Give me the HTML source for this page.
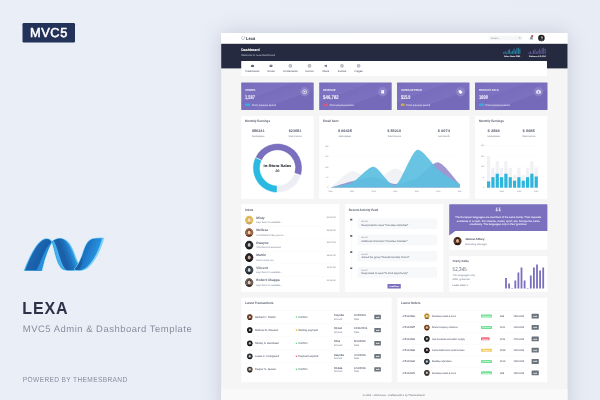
<!DOCTYPE html>
<html><head><meta charset="utf-8"><title>Lexa - MVC5 Admin &amp; Dashboard Template</title>
<style>
html,body{margin:0;padding:0;width:600px;height:400px;overflow:hidden;background:#e9eef7;font-family:"Liberation Sans",sans-serif;}
svg{display:block;font-family:"Liberation Sans",sans-serif;}
svg text{text-rendering:geometricPrecision;}
</style></head><body>
<svg width="600" height="400" viewBox="0 0 600 400">
<defs>
<filter id="sh" x="-30%" y="-30%" width="160%" height="160%"><feGaussianBlur stdDeviation="10"/></filter>
<filter id="soft" x="-5%" y="-5%" width="110%" height="110%"><feGaussianBlur stdDeviation="0.45"/></filter>
<filter id="soft2" x="-5%" y="-5%" width="110%" height="110%"><feGaussianBlur stdDeviation="0.3"/></filter>
<linearGradient id="bgg" x1="0" y1="0" x2="1" y2="0"><stop offset="0" stop-color="#e9eef7"/><stop offset="1" stop-color="#e8ecf5"/></linearGradient>
</defs>
<rect width="600" height="400" fill="url(#bgg)"/>
<g filter="url(#soft2)">
<rect x="22.50" y="23.00" width="52.50" height="19.50" fill="#243058" rx="1.2"/>
<text x="48.90" y="37.10" font-size="13.0" fill="#fff" text-anchor="middle" textLength="38.00" lengthAdjust="spacingAndGlyphs" letter-spacing="0.6" stroke="#fff" stroke-width="0.55">MVC5</text>
</g>
<g id="logo" filter="url(#soft2)">
<defs>
<linearGradient id="lgA" gradientUnits="userSpaceOnUse" x1="30" y1="250" x2="46" y2="258"><stop offset="0" stop-color="#2a86d2"/><stop offset="0.25" stop-color="#1b66b2"/><stop offset="0.7" stop-color="#195fa9"/><stop offset="1" stop-color="#1a62ad"/></linearGradient>
<linearGradient id="lgB" gradientUnits="userSpaceOnUse" x1="55" y1="259" x2="77" y2="251"><stop offset="0" stop-color="#1d66b0"/><stop offset="0.4" stop-color="#1a5ea7"/><stop offset="0.62" stop-color="#1f74c0"/><stop offset="0.8" stop-color="#2c96de"/><stop offset="1" stop-color="#4ab6ee"/></linearGradient>
<linearGradient id="lgC" gradientUnits="userSpaceOnUse" x1="80" y1="250" x2="99" y2="257"><stop offset="0" stop-color="#1b66b3"/><stop offset="0.4" stop-color="#1f7ac9"/><stop offset="1" stop-color="#2b9de8"/></linearGradient>
</defs>
<!-- left band -->
<path d="M23.6 270.9 C26.5 263 30 255.5 33.4 249.8 C36.4 244.8 39.6 241 43 239.2 C45.4 238 47.8 238.1 49.8 239.1 L52.6 241.5 C49.8 246 47.3 253 45 260 C44 263.6 43.2 267.4 42.2 270.9 Z" fill="#63c8f5"/>
<path d="M24.8 270.6 C27.6 263 31 255.6 34.3 250 C37.2 245.2 40.2 241.5 43.4 239.8 C45.8 238.7 47.8 238.7 49.6 239.7 L51.8 241.9 C49 246.4 46.5 253.2 44.2 260 C43.2 263.6 42.3 267.3 41.4 270.6 Z" fill="url(#lgA)"/>
<path d="M41.4 270.6 C42.3 267.3 43.2 263.6 44.2 260 C46.5 253.2 49 246.4 51.6 241.9 C47.6 245.6 44.6 251.5 42 258 C40.4 262.2 38.6 266.6 36.4 270.6 Z" fill="#2b8fdb"/>
<!-- middle band -->
<path d="M51.2 241.6 C53.6 239.6 57 237.7 61 238 C64.6 238.5 67.4 240.6 69.8 243.6 C72 246.6 73.6 250.6 75.2 254.8 C76.4 258 77.4 261.2 79 263.8 L82 268.6 C80 270.2 76 270.9 71 270.9 C66.6 270.9 63.4 270.4 61.4 268.8 C58.4 266 56.8 261.4 55.4 256.6 C54 251.4 53 246 51.4 241.2 Z" fill="#6ecdf6"/>
<path d="M51.8 241.8 C54.2 240 57.2 238.4 60.6 238.6 C63.8 239 66.4 240.9 68.6 243.8 C70.8 246.8 72.4 250.8 74 255 C75.2 258.2 76.4 261.4 78 264 L80.6 268.2 C78.8 269.6 75.6 270.3 71 270.3 C66.8 270.3 63.8 269.9 62 268.4 C59.2 265.6 57.6 261.2 56.2 256.4 C54.8 251.2 53.6 246 52 241.4 Z" fill="url(#lgB)"/>
<path d="M51.8 241.8 C53.6 246 54.8 251.2 56.2 256.4 C57.6 261.2 59.2 265.6 62 268.4 C63 269.3 64.4 269.8 66 270 C63 266.6 61.2 261.6 59.6 256.4 C58 251 56.2 245.4 53.8 240.6 L51.8 241.8 Z" fill="#45b0ee"/>
<!-- right band -->
<path d="M73.6 269.6 C77.4 265.6 79.6 260.6 81.4 256 C82.8 251.6 84.2 247 86.4 243.2 C88 240.6 90 238.9 92.4 238.2 C96 237.4 100.6 237.3 104.4 237.7 C103 243 101 248.6 98.2 254 C95.6 259 92.6 263.8 88.8 267.2 C86 269.8 82.4 271 79.4 270.9 C77 270.9 75 270.5 73.6 269.6 Z" fill="#7cd3f7"/>
<path d="M74.4 269.5 C78 265.6 80.2 260.8 82 256.2 C83.4 251.8 84.8 247.2 87 243.6 C88.4 241.2 90.2 239.6 92.4 238.9 C95.6 238.1 99.2 238 102.2 238.3 C100.8 243.4 99 248.6 96.4 253.8 C93.8 258.8 90.8 263.4 87.2 266.8 C84.8 269 82 270.2 79.6 270.3 C77.6 270.3 75.6 270.1 74.4 269.5 Z" fill="url(#lgC)"/>
<path d="M74.4 269.5 C78 265.6 80.2 260.8 82 256.2 C82.8 259.6 82.4 264 80.6 267.2 C79.6 269 77.8 270.2 76.4 270.2 Z" fill="#174c8e" opacity="0.55"/>
</g>
<g filter="url(#soft2)">
<text x="22.20" y="313.70" font-size="17.4" fill="#2e3248" font-weight="700" textLength="46.40" lengthAdjust="spacingAndGlyphs" letter-spacing="1">LEXA</text>
<text x="22.80" y="331.80" font-size="9.4" fill="#888d9e" textLength="169.40" lengthAdjust="spacingAndGlyphs" letter-spacing="0.5">MVC5 Admin &amp; Dashboard Template</text>
<text x="22.80" y="381.70" font-size="7.4" fill="#888d9e" textLength="104.80" lengthAdjust="spacingAndGlyphs" letter-spacing="0.4">POWERED BY THEMESBRAND</text>
</g>
<rect x="221.2" y="33" width="346.30" height="380" fill="#6e768c" opacity="0.29" filter="url(#sh)"/>
<g filter="url(#soft)">
<rect x="221.20" y="33.00" width="346.30" height="380.00" fill="#f5f5f5"/>
<rect x="221.20" y="388.70" width="346.30" height="12.00" fill="#f9f9f9"/>
<text x="393.60" y="395.50" font-size="2.4" fill="#8d949c" text-anchor="middle" textLength="61.50" lengthAdjust="spacingAndGlyphs" stroke="#8d949c" stroke-width="0.072">© 2018 - 2020 Lexa - Crafted with ♥ by Themesbrand</text>
<rect x="221.20" y="33.00" width="346.30" height="10.80" fill="#ffffff"/>
<path d="M243.2 36.4 C241.2 36.6 241 39.4 243 39.6 C244.6 39.6 244.9 37.6 244.5 36.3" fill="none" stroke="#6a7080" stroke-width="0.4"/>
<text x="246.10" y="39.50" font-size="4.5" fill="#2f3444" font-weight="700" textLength="9.00" lengthAdjust="spacingAndGlyphs">Lexa</text>
<rect x="488.30" y="35.70" width="34.40" height="4.60" fill="#f5f6f8" rx="2.3"/>
<text x="491.00" y="38.90" font-size="2.2" fill="#a4abb3" stroke="#a4abb3" stroke-width="0.066">Search...</text>
<circle cx="519.60" cy="37.80" r="0.70" fill="none" stroke="#8c939c" stroke-width="0.3"/>
<line x1="520.10" y1="38.30" x2="520.70" y2="38.90" stroke="#8c939c" stroke-width="0.3" />
<path d="M529.9 39.3 L529.9 38.9 C530.4 38.4 530.4 37.5 530.5 37.1 C530.8 36.2 532 36.2 532.3 37.1 C532.4 37.5 532.4 38.4 532.9 38.9 L532.9 39.3 Z" fill="#9096a2" stroke="#7a808c" stroke-width="0.25"/>
<circle cx="532.20" cy="36.10" r="1.05" fill="#b0445e" />
<circle cx="541.40" cy="38.00" r="3.30" fill="#222226" />
<ellipse cx="541.9" cy="37.4" rx="0.95" ry="1.25" fill="#a89c98"/>
<path d="M539.2 40.3 C540 38.9 543.4 38.9 544 40.4 C543 41.5 540.4 41.5 539.2 40.3Z" fill="#4a4b52"/>
<rect x="221.20" y="43.80" width="346.30" height="24.60" fill="#262c41"/>
<text x="241.20" y="51.30" font-size="3.5" fill="#ffffff" font-weight="700" textLength="18.60" lengthAdjust="spacingAndGlyphs" stroke="#ffffff" stroke-width="0.047">Dashboard</text>
<text x="241.20" y="56.00" font-size="2.4" fill="#9aa1b4" textLength="33.80" lengthAdjust="spacingAndGlyphs" stroke="#9aa1b4" stroke-width="0.072">Welcome to Lexa Dashboard</text>
<rect x="503.30" y="52.10" width="0.91" height="1.80" fill="#2bb9e0" opacity="0.66"/>
<rect x="504.77" y="51.30" width="0.91" height="2.60" fill="#2bb9e0" opacity="0.66"/>
<rect x="506.23" y="52.50" width="0.91" height="1.40" fill="#2bb9e0" opacity="0.66"/>
<rect x="507.70" y="50.30" width="0.91" height="3.60" fill="#2bb9e0" opacity="0.66"/>
<rect x="509.17" y="49.30" width="0.91" height="4.60" fill="#2bb9e0" opacity="0.66"/>
<rect x="510.63" y="51.70" width="0.91" height="2.20" fill="#2bb9e0" opacity="0.66"/>
<rect x="512.10" y="50.90" width="0.91" height="3.00" fill="#2bb9e0" opacity="0.66"/>
<rect x="513.57" y="48.70" width="0.91" height="5.20" fill="#2bb9e0" opacity="0.66"/>
<rect x="515.03" y="50.50" width="0.91" height="3.40" fill="#2bb9e0" opacity="0.66"/>
<rect x="516.50" y="48.10" width="0.91" height="5.80" fill="#2bb9e0" opacity="0.66"/>
<rect x="517.97" y="47.70" width="0.91" height="6.20" fill="#2bb9e0" opacity="0.66"/>
<rect x="519.43" y="48.90" width="0.91" height="5.00" fill="#2bb9e0" opacity="0.66"/>
<text x="512.10" y="57.10" font-size="2.0" fill="#e8eaf0" font-weight="700" text-anchor="middle" textLength="16.40" lengthAdjust="spacingAndGlyphs" stroke="#e8eaf0" stroke-width="0.027">Sales State 2584</text>
<rect x="528.60" y="52.10" width="0.91" height="1.80" fill="#7a6fbe" opacity="0.66"/>
<rect x="530.07" y="51.30" width="0.91" height="2.60" fill="#7a6fbe" opacity="0.66"/>
<rect x="531.53" y="52.50" width="0.91" height="1.40" fill="#7a6fbe" opacity="0.66"/>
<rect x="533.00" y="50.30" width="0.91" height="3.60" fill="#7a6fbe" opacity="0.66"/>
<rect x="534.47" y="49.30" width="0.91" height="4.60" fill="#7a6fbe" opacity="0.66"/>
<rect x="535.93" y="51.70" width="0.91" height="2.20" fill="#7a6fbe" opacity="0.66"/>
<rect x="537.40" y="50.90" width="0.91" height="3.00" fill="#7a6fbe" opacity="0.66"/>
<rect x="538.87" y="48.70" width="0.91" height="5.20" fill="#7a6fbe" opacity="0.66"/>
<rect x="540.33" y="50.50" width="0.91" height="3.40" fill="#7a6fbe" opacity="0.66"/>
<rect x="541.80" y="48.10" width="0.91" height="5.80" fill="#7a6fbe" opacity="0.66"/>
<rect x="543.27" y="47.70" width="0.91" height="6.20" fill="#7a6fbe" opacity="0.66"/>
<rect x="544.73" y="48.90" width="0.91" height="5.00" fill="#7a6fbe" opacity="0.66"/>
<text x="537.40" y="57.10" font-size="2.0" fill="#e8eaf0" font-weight="700" text-anchor="middle" textLength="16.60" lengthAdjust="spacingAndGlyphs" stroke="#e8eaf0" stroke-width="0.027">Balance $ 5,254</text>
<rect x="241.20" y="60.90" width="305.80" height="15.10" fill="#ffffff" rx="0.6"/>
<path d="M251.10 66.9 A1.5 1.5 0 1 1 253.90 66.9 Z" fill="#5d6372"/>
<text x="252.50" y="71.70" font-size="2.5" fill="#7a808d" text-anchor="middle" textLength="13.80" lengthAdjust="spacingAndGlyphs" stroke="#7a808d" stroke-width="0.075">Dashboard</text>
<rect x="269.60" y="64.80" width="2.80" height="2.10" fill="#5d6372" rx="0.3"/>
<path d="M269.80 65.1 L271.00 66.1 L272.20 65.1" fill="none" stroke="#fff" stroke-width="0.3"/>
<text x="271.00" y="71.70" font-size="2.5" fill="#7a808d" text-anchor="middle" textLength="7.20" lengthAdjust="spacingAndGlyphs" stroke="#7a808d" stroke-width="0.075">Email</text>
<rect x="289.10" y="64.60" width="2.40" height="2.50" fill="none" rx="0.3" stroke="#5d6372" stroke-width="0.45"/>
<line x1="289.70" y1="65.50" x2="290.90" y2="65.50" stroke="#5d6372" stroke-width="0.3" />
<line x1="289.70" y1="66.30" x2="290.90" y2="66.30" stroke="#5d6372" stroke-width="0.3" />
<text x="290.30" y="71.70" font-size="2.5" fill="#7a808d" text-anchor="middle" textLength="14.60" lengthAdjust="spacingAndGlyphs" stroke="#7a808d" stroke-width="0.075">UI Elements</text>
<rect x="308.30" y="64.60" width="2.40" height="2.50" fill="none" rx="0.3" stroke="#5d6372" stroke-width="0.45"/>
<line x1="308.90" y1="65.50" x2="310.10" y2="65.50" stroke="#5d6372" stroke-width="0.3" />
<line x1="308.90" y1="66.30" x2="310.10" y2="66.30" stroke="#5d6372" stroke-width="0.3" />
<text x="309.50" y="71.70" font-size="2.5" fill="#7a808d" text-anchor="middle" textLength="8.20" lengthAdjust="spacingAndGlyphs" stroke="#7a808d" stroke-width="0.075">Forms</text>
<path d="M324.50 65.2 L325.50 65.2 L326.80 64.5 L326.80 67.3 L325.50 66.6 L324.50 66.6 Z" fill="#5d6372"/>
<text x="325.80" y="71.70" font-size="2.5" fill="#7a808d" text-anchor="middle" textLength="6.80" lengthAdjust="spacingAndGlyphs" stroke="#7a808d" stroke-width="0.075">More</text>
<rect x="340.80" y="64.60" width="2.40" height="2.50" fill="none" rx="0.3" stroke="#5d6372" stroke-width="0.45"/>
<line x1="341.40" y1="65.50" x2="342.60" y2="65.50" stroke="#5d6372" stroke-width="0.3" />
<line x1="341.40" y1="66.30" x2="342.60" y2="66.30" stroke="#5d6372" stroke-width="0.3" />
<text x="342.00" y="71.70" font-size="2.5" fill="#7a808d" text-anchor="middle" textLength="8.40" lengthAdjust="spacingAndGlyphs" stroke="#7a808d" stroke-width="0.075">Extras</text>
<rect x="357.40" y="64.60" width="2.40" height="2.50" fill="none" rx="0.3" stroke="#5d6372" stroke-width="0.45"/>
<line x1="358.00" y1="65.50" x2="359.20" y2="65.50" stroke="#5d6372" stroke-width="0.3" />
<line x1="358.00" y1="66.30" x2="359.20" y2="66.30" stroke="#5d6372" stroke-width="0.3" />
<text x="358.60" y="71.70" font-size="2.5" fill="#7a808d" text-anchor="middle" textLength="8.20" lengthAdjust="spacingAndGlyphs" stroke="#7a808d" stroke-width="0.075">Pages</text>
<defs><linearGradient id="cg" x1="0" y1="0" x2="1" y2="1"><stop offset="0" stop-color="#786dbd"/><stop offset="0.35" stop-color="#7d72c1"/><stop offset="0.36" stop-color="#786dbd"/><stop offset="0.62" stop-color="#7b70bf"/><stop offset="0.63" stop-color="#756aba"/><stop offset="1" stop-color="#756aba"/></linearGradient></defs>
<rect x="241.20" y="82.50" width="72.50" height="27.60" fill="url(#cg)" rx="0.7"/>
<text x="245.10" y="90.70" font-size="2.8" fill="#e4e1f4" font-weight="700" textLength="10.40" lengthAdjust="spacingAndGlyphs" stroke="#e4e1f4" stroke-width="0.038">ORDERS</text>
<text x="245.10" y="98.70" font-size="5.5" fill="#ffffff" font-weight="700" textLength="9.80" lengthAdjust="spacingAndGlyphs">1,587</text>
<rect x="245.10" y="103.60" width="5.30" height="2.30" fill="#2bb9e0" rx="0.5" opacity="0.78"/>
<text x="252.00" y="105.60" font-size="2.4" fill="#dcd8f0" textLength="24.00" lengthAdjust="spacingAndGlyphs" stroke="#dcd8f0" stroke-width="0.072">From previous period</text>
<circle cx="304.70" cy="91.80" r="4.70" fill="#8b81c8" />
<circle cx="304.70" cy="91.80" r="2.00" fill="none" stroke="#fff" stroke-width="0.6"/>
<circle cx="304.70" cy="91.80" r="0.70" fill="#fff" />
<rect x="319.20" y="82.50" width="72.50" height="27.60" fill="url(#cg)" rx="0.7"/>
<text x="323.10" y="90.70" font-size="2.8" fill="#e4e1f4" font-weight="700" textLength="12.40" lengthAdjust="spacingAndGlyphs" stroke="#e4e1f4" stroke-width="0.038">REVENUE</text>
<text x="323.10" y="98.70" font-size="5.5" fill="#ffffff" font-weight="700" textLength="15.60" lengthAdjust="spacingAndGlyphs">$46,782</text>
<rect x="323.10" y="103.60" width="5.00" height="2.30" fill="#ec536c" rx="0.5" opacity="0.78"/>
<text x="329.70" y="105.60" font-size="2.4" fill="#dcd8f0" textLength="24.00" lengthAdjust="spacingAndGlyphs" stroke="#dcd8f0" stroke-width="0.072">From previous period</text>
<circle cx="382.70" cy="91.80" r="4.70" fill="#8b81c8" />
<rect x="381.30" y="90.00" width="2.80" height="3.60" fill="#fff" rx="0.4"/>
<rect x="381.90" y="90.80" width="1.60" height="0.50" fill="#8b81c8"/>
<rect x="397.00" y="82.50" width="72.50" height="27.60" fill="url(#cg)" rx="0.7"/>
<text x="400.90" y="90.70" font-size="2.8" fill="#e4e1f4" font-weight="700" textLength="21.00" lengthAdjust="spacingAndGlyphs" stroke="#e4e1f4" stroke-width="0.038">AVERAGE PRICE</text>
<text x="400.90" y="98.70" font-size="5.5" fill="#ffffff" font-weight="700" textLength="9.60" lengthAdjust="spacingAndGlyphs">$15.9</text>
<rect x="400.90" y="103.60" width="3.60" height="2.30" fill="#f5b225" rx="0.5" opacity="0.78"/>
<text x="406.10" y="105.60" font-size="2.4" fill="#dcd8f0" textLength="24.00" lengthAdjust="spacingAndGlyphs" stroke="#dcd8f0" stroke-width="0.072">From previous period</text>
<circle cx="460.50" cy="91.80" r="4.70" fill="#8b81c8" />
<path d="M458.60 90.2 L460.80 90.2 L462.60 92.2 L460.60 94 L458.60 92.2 Z" fill="#fff"/>
<rect x="475.00" y="82.50" width="72.50" height="27.60" fill="url(#cg)" rx="0.7"/>
<text x="478.90" y="90.70" font-size="2.8" fill="#e4e1f4" font-weight="700" textLength="19.60" lengthAdjust="spacingAndGlyphs" stroke="#e4e1f4" stroke-width="0.038">PRODUCT SOLD</text>
<text x="478.90" y="98.70" font-size="5.5" fill="#ffffff" font-weight="700" textLength="9.00" lengthAdjust="spacingAndGlyphs">1890</text>
<rect x="478.90" y="103.60" width="5.10" height="2.30" fill="#2bb9e0" rx="0.5" opacity="0.78"/>
<text x="485.60" y="105.60" font-size="2.4" fill="#dcd8f0" textLength="24.00" lengthAdjust="spacingAndGlyphs" stroke="#dcd8f0" stroke-width="0.072">From previous period</text>
<circle cx="538.50" cy="91.80" r="4.70" fill="#8b81c8" />
<rect x="536.30" y="90.40" width="4.40" height="3.20" fill="#fff" rx="0.5"/>
<circle cx="538.50" cy="92.00" r="0.90" fill="#8b81c8" />
<rect x="537.60" y="89.80" width="1.80" height="0.80" fill="#fff"/>
<rect x="241.20" y="116.00" width="72.50" height="82.80" fill="#ffffff" rx="0.7"/>
<rect x="319.20" y="116.00" width="150.30" height="82.80" fill="#ffffff" rx="0.7"/>
<rect x="475.00" y="116.00" width="72.20" height="82.80" fill="#ffffff" rx="0.7"/>
<text x="245.10" y="122.40" font-size="3.2" fill="#4a5060" font-weight="700" textLength="25.00" lengthAdjust="spacingAndGlyphs" opacity="0.85" stroke="#4a5060" stroke-width="0.043">Monthly Earnings</text>
<text x="323.00" y="122.40" font-size="3.2" fill="#4a5060" font-weight="700" textLength="15.40" lengthAdjust="spacingAndGlyphs" opacity="0.85" stroke="#4a5060" stroke-width="0.043">Email Sent</text>
<text x="478.90" y="122.40" font-size="3.2" fill="#4a5060" font-weight="700" textLength="25.00" lengthAdjust="spacingAndGlyphs" opacity="0.85" stroke="#4a5060" stroke-width="0.043">Monthly Earnings</text>
<text x="258.20" y="131.90" font-size="3.6" fill="#6b7180" font-weight="700" text-anchor="middle" textLength="12.60" lengthAdjust="spacingAndGlyphs" stroke="#6b7180" stroke-width="0.049">$56241</text>
<text x="258.20" y="137.10" font-size="2.3" fill="#9aa3ad" text-anchor="middle" textLength="12.40" lengthAdjust="spacingAndGlyphs" stroke="#9aa3ad" stroke-width="0.069">Marketplace</text>
<text x="295.00" y="131.90" font-size="3.6" fill="#6b7180" font-weight="700" text-anchor="middle" textLength="12.60" lengthAdjust="spacingAndGlyphs" stroke="#6b7180" stroke-width="0.049">$23651</text>
<text x="295.00" y="137.10" font-size="2.3" fill="#9aa3ad" text-anchor="middle" textLength="13.60" lengthAdjust="spacingAndGlyphs" stroke="#9aa3ad" stroke-width="0.069">Total Income</text>
<text x="344.90" y="131.90" font-size="3.6" fill="#6b7180" font-weight="700" text-anchor="middle" textLength="14.00" lengthAdjust="spacingAndGlyphs" stroke="#6b7180" stroke-width="0.049">$ 89425</text>
<text x="344.90" y="137.10" font-size="2.3" fill="#9aa3ad" text-anchor="middle" textLength="12.40" lengthAdjust="spacingAndGlyphs" stroke="#9aa3ad" stroke-width="0.069">Marketplace</text>
<text x="394.20" y="131.90" font-size="3.6" fill="#6b7180" font-weight="700" text-anchor="middle" textLength="14.00" lengthAdjust="spacingAndGlyphs" stroke="#6b7180" stroke-width="0.049">$ 56210</text>
<text x="394.20" y="137.10" font-size="2.3" fill="#9aa3ad" text-anchor="middle" textLength="13.60" lengthAdjust="spacingAndGlyphs" stroke="#9aa3ad" stroke-width="0.069">Total Income</text>
<text x="443.80" y="131.90" font-size="3.6" fill="#6b7180" font-weight="700" text-anchor="middle" textLength="12.20" lengthAdjust="spacingAndGlyphs" stroke="#6b7180" stroke-width="0.049">$ 8974</text>
<text x="443.80" y="137.10" font-size="2.3" fill="#9aa3ad" text-anchor="middle" textLength="11.60" lengthAdjust="spacingAndGlyphs" stroke="#9aa3ad" stroke-width="0.069">Last Month</text>
<text x="493.70" y="131.90" font-size="3.6" fill="#6b7180" font-weight="700" text-anchor="middle" textLength="12.20" lengthAdjust="spacingAndGlyphs" stroke="#6b7180" stroke-width="0.049">$ 2548</text>
<text x="493.70" y="137.10" font-size="2.3" fill="#9aa3ad" text-anchor="middle" textLength="12.40" lengthAdjust="spacingAndGlyphs" stroke="#9aa3ad" stroke-width="0.069">Marketplace</text>
<text x="528.70" y="131.90" font-size="3.6" fill="#6b7180" font-weight="700" text-anchor="middle" textLength="12.20" lengthAdjust="spacingAndGlyphs" stroke="#6b7180" stroke-width="0.049">$ 6985</text>
<text x="528.70" y="137.10" font-size="2.3" fill="#9aa3ad" text-anchor="middle" textLength="13.60" lengthAdjust="spacingAndGlyphs" stroke="#9aa3ad" stroke-width="0.069">Total Income</text>
<path d="M255.30 157.41 A24.6 24.6 0 0 1 300.96 175.40 L294.29 173.29 A17.6 17.6 0 0 0 261.61 160.42 Z" fill="#7a6fbe" stroke="#fff" stroke-width="0.5"/>
<path d="M300.96 175.40 A24.6 24.6 0 0 1 277.07 192.60 L277.19 185.60 A17.6 17.6 0 0 0 294.29 173.29 Z" fill="#eceef3" stroke="#fff" stroke-width="0.5"/>
<path d="M277.07 192.60 A24.6 24.6 0 0 1 255.30 157.41 L261.61 160.42 A17.6 17.6 0 0 0 277.19 185.60 Z" fill="#2bb9e0" stroke="#fff" stroke-width="0.5"/>
<text x="277.50" y="166.70" font-size="3.7" fill="#23272f" font-weight="700" text-anchor="middle" textLength="27.80" lengthAdjust="spacingAndGlyphs" stroke="#23272f" stroke-width="0.050">In-Store Sales</text>
<text x="277.50" y="171.90" font-size="3.4" fill="#23272f" text-anchor="middle" stroke="#23272f" stroke-width="0.102">30</text>
<line x1="330.50" y1="146.00" x2="460.00" y2="146.00" stroke="#f1f2f5" stroke-width="0.25" />
<text x="328.30" y="146.70" font-size="1.9" fill="#a9afb7" text-anchor="end" stroke="#a9afb7" stroke-width="0.057">200</text>
<line x1="330.50" y1="156.40" x2="460.00" y2="156.40" stroke="#f1f2f5" stroke-width="0.25" />
<text x="328.30" y="157.10" font-size="1.9" fill="#a9afb7" text-anchor="end" stroke="#a9afb7" stroke-width="0.057">150</text>
<line x1="330.50" y1="166.80" x2="460.00" y2="166.80" stroke="#f1f2f5" stroke-width="0.25" />
<text x="328.30" y="167.50" font-size="1.9" fill="#a9afb7" text-anchor="end" stroke="#a9afb7" stroke-width="0.057">100</text>
<line x1="330.50" y1="177.20" x2="460.00" y2="177.20" stroke="#f1f2f5" stroke-width="0.25" />
<text x="328.30" y="177.90" font-size="1.9" fill="#a9afb7" text-anchor="end" stroke="#a9afb7" stroke-width="0.057">50</text>
<line x1="330.50" y1="187.60" x2="460.00" y2="187.60" stroke="#f1f2f5" stroke-width="0.25" />
<text x="328.30" y="188.30" font-size="1.9" fill="#a9afb7" text-anchor="end" stroke="#a9afb7" stroke-width="0.057">0</text>
<text x="330.50" y="192.10" font-size="1.9" fill="#a9afb7" text-anchor="middle" stroke="#a9afb7" stroke-width="0.057">2011</text>
<text x="352.08" y="192.10" font-size="1.9" fill="#a9afb7" text-anchor="middle" stroke="#a9afb7" stroke-width="0.057">2012</text>
<text x="373.67" y="192.10" font-size="1.9" fill="#a9afb7" text-anchor="middle" stroke="#a9afb7" stroke-width="0.057">2013</text>
<text x="395.25" y="192.10" font-size="1.9" fill="#a9afb7" text-anchor="middle" stroke="#a9afb7" stroke-width="0.057">2014</text>
<text x="416.83" y="192.10" font-size="1.9" fill="#a9afb7" text-anchor="middle" stroke="#a9afb7" stroke-width="0.057">2015</text>
<text x="438.42" y="192.10" font-size="1.9" fill="#a9afb7" text-anchor="middle" stroke="#a9afb7" stroke-width="0.057">2016</text>
<text x="460.00" y="192.10" font-size="1.9" fill="#a9afb7" text-anchor="middle" stroke="#a9afb7" stroke-width="0.057">2017</text>
<path d="M330.50 187.60 C335.90 183.45 346.69 171.76 352.08 171.00 C357.48 170.24 368.27 181.81 373.67 181.50 C379.06 181.19 389.85 168.56 395.25 168.50 C400.65 168.44 411.44 179.06 416.83 181.00 C422.23 182.94 433.02 183.56 438.42 184.00 C443.81 184.44 454.60 184.38 460.00 184.50 L460.00 187.6 L330.50 187.6 Z" fill="#f1f2f5" opacity="1"/>
<path d="M330.50 187.60 C335.90 186.00 346.69 182.52 352.08 181.20 C357.48 179.88 368.27 176.65 373.67 177.00 C379.06 177.35 389.85 183.88 395.25 184.00 C400.65 184.12 411.44 180.70 416.83 178.00 C422.23 175.30 433.02 161.61 438.42 162.40 C443.81 163.19 454.60 178.83 460.00 184.30 L460.00 187.6 L330.50 187.6 Z" fill="#a197d0" opacity="1"/>
<path d="M330.50 187.60 C335.90 186.35 346.69 185.20 352.08 182.60 C357.48 180.00 368.27 166.46 373.67 166.80 C379.06 167.14 389.85 187.41 395.25 185.30 C400.65 183.19 411.44 151.81 416.83 149.90 C422.23 147.99 433.02 165.70 438.42 170.00 C443.81 174.30 454.60 180.72 460.00 184.30 L460.00 187.6 L330.50 187.6 Z" fill="#5bbfe0" opacity="0.93"/>
<line x1="485.50" y1="145.70" x2="540.00" y2="145.70" stroke="#f1f2f5" stroke-width="0.25" />
<text x="484.20" y="146.40" font-size="1.9" fill="#a9afb7" text-anchor="end" stroke="#a9afb7" stroke-width="0.057">300</text>
<line x1="485.50" y1="156.20" x2="540.00" y2="156.20" stroke="#f1f2f5" stroke-width="0.25" />
<text x="484.20" y="156.90" font-size="1.9" fill="#a9afb7" text-anchor="end" stroke="#a9afb7" stroke-width="0.057">225</text>
<line x1="485.50" y1="166.70" x2="540.00" y2="166.70" stroke="#f1f2f5" stroke-width="0.25" />
<text x="484.20" y="167.40" font-size="1.9" fill="#a9afb7" text-anchor="end" stroke="#a9afb7" stroke-width="0.057">150</text>
<line x1="485.50" y1="177.20" x2="540.00" y2="177.20" stroke="#f1f2f5" stroke-width="0.25" />
<text x="484.20" y="177.90" font-size="1.9" fill="#a9afb7" text-anchor="end" stroke="#a9afb7" stroke-width="0.057">75</text>
<line x1="485.50" y1="187.70" x2="540.00" y2="187.70" stroke="#f1f2f5" stroke-width="0.25" />
<text x="484.20" y="188.40" font-size="1.9" fill="#a9afb7" text-anchor="end" stroke="#a9afb7" stroke-width="0.057">0</text>
<rect x="487.00" y="156.20" width="3.20" height="31.50" fill="#f0f1f4"/>
<rect x="487.00" y="181.40" width="3.20" height="6.30" fill="#2fb5dc"/>
<rect x="491.33" y="168.10" width="3.20" height="19.60" fill="#f0f1f4"/>
<rect x="491.33" y="177.20" width="3.20" height="10.50" fill="#2fb5dc"/>
<rect x="495.66" y="161.10" width="3.20" height="26.60" fill="#f0f1f4"/>
<rect x="495.66" y="173.70" width="3.20" height="14.00" fill="#2fb5dc"/>
<rect x="499.99" y="168.10" width="3.20" height="19.60" fill="#f0f1f4"/>
<rect x="499.99" y="177.20" width="3.20" height="10.50" fill="#2fb5dc"/>
<rect x="504.32" y="161.10" width="3.20" height="26.60" fill="#f0f1f4"/>
<rect x="504.32" y="173.70" width="3.20" height="14.00" fill="#2fb5dc"/>
<rect x="508.65" y="168.10" width="3.20" height="19.60" fill="#f0f1f4"/>
<rect x="508.65" y="177.20" width="3.20" height="10.50" fill="#2fb5dc"/>
<rect x="512.98" y="175.10" width="3.20" height="12.60" fill="#f0f1f4"/>
<rect x="512.98" y="180.70" width="3.20" height="7.00" fill="#2fb5dc"/>
<rect x="517.31" y="168.10" width="3.20" height="19.60" fill="#f0f1f4"/>
<rect x="517.31" y="177.20" width="3.20" height="10.50" fill="#2fb5dc"/>
<rect x="521.64" y="175.10" width="3.20" height="12.60" fill="#f0f1f4"/>
<rect x="521.64" y="180.70" width="3.20" height="7.00" fill="#2fb5dc"/>
<rect x="525.97" y="168.10" width="3.20" height="19.60" fill="#f0f1f4"/>
<rect x="525.97" y="177.20" width="3.20" height="10.50" fill="#2fb5dc"/>
<rect x="530.30" y="161.10" width="3.20" height="26.60" fill="#f0f1f4"/>
<rect x="530.30" y="173.70" width="3.20" height="14.00" fill="#2fb5dc"/>
<rect x="534.63" y="167.40" width="3.20" height="20.30" fill="#f0f1f4"/>
<rect x="534.63" y="176.50" width="3.20" height="11.20" fill="#2fb5dc"/>
<text x="501.70" y="192.40" font-size="1.9" fill="#a9afb7" text-anchor="middle" stroke="#a9afb7" stroke-width="0.057">2008</text>
<text x="519.20" y="192.40" font-size="1.9" fill="#a9afb7" text-anchor="middle" stroke="#a9afb7" stroke-width="0.057">2012</text>
<text x="536.20" y="192.40" font-size="1.9" fill="#a9afb7" text-anchor="middle" stroke="#a9afb7" stroke-width="0.057">2016</text>
<rect x="241.20" y="204.20" width="98.20" height="87.60" fill="#ffffff" rx="0.7"/>
<rect x="345.00" y="204.20" width="98.30" height="87.60" fill="#ffffff" rx="0.7"/>
<text x="245.10" y="210.60" font-size="3.2" fill="#4a5060" font-weight="700" textLength="8.20" lengthAdjust="spacingAndGlyphs" opacity="0.85" stroke="#4a5060" stroke-width="0.043">Inbox</text>
<text x="348.80" y="210.60" font-size="3.2" fill="#4a5060" font-weight="700" textLength="29.40" lengthAdjust="spacingAndGlyphs" opacity="0.85" stroke="#4a5060" stroke-width="0.043">Recent Activity Feed</text>
<g><clipPath id="cp2492_2200"><circle cx="249.2" cy="220.0" r="4.4"/></clipPath>
<g clip-path="url(#cp2492_2200)">
<circle cx="249.20" cy="220.00" r="4.40" fill="#e3c355" />
<ellipse cx="249.2" cy="224.49" rx="3.61" ry="2.42" fill="#c9a36a"/>
<ellipse cx="249.2" cy="219.21" rx="2.02" ry="2.29" fill="#c9a36a"/>
<ellipse cx="249.2" cy="219.91" rx="1.50" ry="1.85" fill="#f3e0c4"/>
</g></g>
<text x="256.30" y="218.60" font-size="3.25" fill="#596070" font-weight="700" opacity="0.9" stroke="#596070" stroke-width="0.044">Misty</text>
<text x="256.30" y="223.00" font-size="2.3" fill="#9aa3ad" stroke="#9aa3ad" stroke-width="0.069">Hey! there I'm available...</text>
<text x="335.60" y="218.20" font-size="2.1" fill="#9aa3ad" text-anchor="end" stroke="#9aa3ad" stroke-width="0.063">13:40 PM</text>
<line x1="245.10" y1="226.25" x2="335.60" y2="226.25" stroke="#f0f1f3" stroke-width="0.3" />
<g><clipPath id="cp2492_2325"><circle cx="249.2" cy="232.5" r="4.4"/></clipPath>
<g clip-path="url(#cp2492_2325)">
<circle cx="249.20" cy="232.50" r="4.40" fill="#9a6b4a" />
<ellipse cx="249.2" cy="236.99" rx="3.61" ry="2.42" fill="#6a3a22"/>
<ellipse cx="249.2" cy="231.71" rx="2.02" ry="2.29" fill="#6a3a22"/>
<ellipse cx="249.2" cy="232.41" rx="1.50" ry="1.85" fill="#efcdb0"/>
</g></g>
<text x="256.30" y="231.10" font-size="3.25" fill="#596070" font-weight="700" opacity="0.9" stroke="#596070" stroke-width="0.044">Melissa</text>
<text x="256.30" y="235.50" font-size="2.3" fill="#9aa3ad" stroke="#9aa3ad" stroke-width="0.069">I've finished it! See you so...</text>
<text x="335.60" y="230.70" font-size="2.1" fill="#9aa3ad" text-anchor="end" stroke="#9aa3ad" stroke-width="0.063">13:34 PM</text>
<line x1="245.10" y1="238.75" x2="335.60" y2="238.75" stroke="#f0f1f3" stroke-width="0.3" />
<g><clipPath id="cp2492_2450"><circle cx="249.2" cy="245.0" r="4.4"/></clipPath>
<g clip-path="url(#cp2492_2450)">
<circle cx="249.20" cy="245.00" r="4.40" fill="#2e2e31" />
<ellipse cx="249.2" cy="249.49" rx="3.61" ry="2.42" fill="#19191b"/>
<ellipse cx="249.2" cy="244.21" rx="2.02" ry="2.29" fill="#19191b"/>
<ellipse cx="249.2" cy="244.91" rx="1.50" ry="1.85" fill="#c4c4c6"/>
</g></g>
<text x="256.30" y="243.60" font-size="3.25" fill="#596070" font-weight="700" opacity="0.9" stroke="#596070" stroke-width="0.044">Dwayne</text>
<text x="256.30" y="248.00" font-size="2.3" fill="#9aa3ad" stroke="#9aa3ad" stroke-width="0.069">This theme is awesome!</text>
<text x="335.60" y="243.20" font-size="2.1" fill="#9aa3ad" text-anchor="end" stroke="#9aa3ad" stroke-width="0.063">13:17 PM</text>
<line x1="245.10" y1="251.25" x2="335.60" y2="251.25" stroke="#f0f1f3" stroke-width="0.3" />
<g><clipPath id="cp2492_2575"><circle cx="249.2" cy="257.5" r="4.4"/></clipPath>
<g clip-path="url(#cp2492_2575)">
<circle cx="249.20" cy="257.50" r="4.40" fill="#2d2729" />
<ellipse cx="249.2" cy="261.99" rx="3.61" ry="2.42" fill="#171314"/>
<ellipse cx="249.2" cy="256.71" rx="2.02" ry="2.29" fill="#171314"/>
<ellipse cx="249.2" cy="257.41" rx="1.50" ry="1.85" fill="#c9aea2"/>
</g></g>
<text x="256.30" y="256.10" font-size="3.25" fill="#596070" font-weight="700" opacity="0.9" stroke="#596070" stroke-width="0.044">Martin</text>
<text x="256.30" y="260.50" font-size="2.3" fill="#9aa3ad" stroke="#9aa3ad" stroke-width="0.069">Nice to meet you</text>
<text x="335.60" y="255.70" font-size="2.1" fill="#9aa3ad" text-anchor="end" stroke="#9aa3ad" stroke-width="0.063">12:20 PM</text>
<line x1="245.10" y1="263.75" x2="335.60" y2="263.75" stroke="#f0f1f3" stroke-width="0.3" />
<g><clipPath id="cp2492_2700"><circle cx="249.2" cy="270.0" r="4.4"/></clipPath>
<g clip-path="url(#cp2492_2700)">
<circle cx="249.20" cy="270.00" r="4.40" fill="#3a4650" />
<ellipse cx="249.2" cy="274.49" rx="3.61" ry="2.42" fill="#20282f"/>
<ellipse cx="249.2" cy="269.21" rx="2.02" ry="2.29" fill="#20282f"/>
<ellipse cx="249.2" cy="269.91" rx="1.50" ry="1.85" fill="#d2d8dc"/>
</g></g>
<text x="256.30" y="268.60" font-size="3.25" fill="#596070" font-weight="700" opacity="0.9" stroke="#596070" stroke-width="0.044">Vincent</text>
<text x="256.30" y="273.00" font-size="2.3" fill="#9aa3ad" stroke="#9aa3ad" stroke-width="0.069">Hey! there I'm available...</text>
<text x="335.60" y="268.20" font-size="2.1" fill="#9aa3ad" text-anchor="end" stroke="#9aa3ad" stroke-width="0.063">11:47 AM</text>
<line x1="245.10" y1="276.25" x2="335.60" y2="276.25" stroke="#f0f1f3" stroke-width="0.3" />
<g><clipPath id="cp2492_2825"><circle cx="249.2" cy="282.5" r="4.4"/></clipPath>
<g clip-path="url(#cp2492_2825)">
<circle cx="249.20" cy="282.50" r="4.40" fill="#6f625b" />
<ellipse cx="249.2" cy="286.99" rx="3.61" ry="2.42" fill="#3a2e29"/>
<ellipse cx="249.2" cy="281.71" rx="2.02" ry="2.29" fill="#3a2e29"/>
<ellipse cx="249.2" cy="282.41" rx="1.50" ry="1.85" fill="#e0cdbf"/>
</g></g>
<text x="256.30" y="281.10" font-size="3.25" fill="#596070" font-weight="700" opacity="0.9" stroke="#596070" stroke-width="0.044">Robert Chappa</text>
<text x="256.30" y="285.50" font-size="2.3" fill="#9aa3ad" stroke="#9aa3ad" stroke-width="0.069">Hey! there I'm available...</text>
<text x="335.60" y="280.70" font-size="2.1" fill="#9aa3ad" text-anchor="end" stroke="#9aa3ad" stroke-width="0.063">10:12 AM</text>
<line x1="351.30" y1="219.00" x2="351.30" y2="280.00" stroke="#eceef1" stroke-width="0.4" />
<rect x="357.50" y="218.50" width="79.50" height="10.60" fill="#f7f8fa" rx="0.5"/>
<rect x="350.20" y="218.80" width="2.10" height="1.70" fill="#5a6070" rx="0.3"/>
<text x="361.30" y="222.10" font-size="2.1" fill="#9aa3ad" stroke="#9aa3ad" stroke-width="0.063">Jan 22</text>
<text x="361.30" y="225.70" font-size="2.4" fill="#838995" textLength="47.00" lengthAdjust="spacingAndGlyphs" stroke="#838995" stroke-width="0.072">Responded to need "Volunteer Activities"</text>
<rect x="357.50" y="234.70" width="79.50" height="10.60" fill="#f7f8fa" rx="0.5"/>
<rect x="350.20" y="235.00" width="2.10" height="1.70" fill="#5a6070" rx="0.3"/>
<text x="361.30" y="238.30" font-size="2.1" fill="#9aa3ad" stroke="#9aa3ad" stroke-width="0.063">Jan 20</text>
<text x="361.30" y="241.90" font-size="2.4" fill="#838995" textLength="46.00" lengthAdjust="spacingAndGlyphs" stroke="#838995" stroke-width="0.072">Additional information "Volunteer Activities"</text>
<rect x="357.50" y="250.90" width="79.50" height="10.60" fill="#f7f8fa" rx="0.5"/>
<rect x="350.20" y="251.20" width="2.10" height="1.70" fill="#5a6070" rx="0.3"/>
<text x="361.30" y="254.50" font-size="2.1" fill="#9aa3ad" stroke="#9aa3ad" stroke-width="0.063">Jan 19</text>
<text x="361.30" y="258.10" font-size="2.4" fill="#838995" textLength="48.00" lengthAdjust="spacingAndGlyphs" stroke="#838995" stroke-width="0.072">Joined the group "Boardsmanship Forum"</text>
<rect x="357.50" y="267.10" width="79.50" height="10.60" fill="#f7f8fa" rx="0.5"/>
<rect x="350.20" y="267.40" width="2.10" height="1.70" fill="#5a6070" rx="0.3"/>
<text x="361.30" y="270.70" font-size="2.1" fill="#9aa3ad" stroke="#9aa3ad" stroke-width="0.063">Jan 17</text>
<text x="361.30" y="274.30" font-size="2.4" fill="#838995" textLength="46.50" lengthAdjust="spacingAndGlyphs" stroke="#838995" stroke-width="0.072">Responded to need "In-Kind Opportunity"</text>
<rect x="387.50" y="284.10" width="13.30" height="4.50" fill="#7a6fbe" rx="0.5"/>
<text x="394.15" y="287.20" font-size="2.0" fill="#fff" text-anchor="middle" textLength="9.20" lengthAdjust="spacingAndGlyphs" stroke="#fff" stroke-width="0.060">Load More</text>
<rect x="449.20" y="204.20" width="98.20" height="45.60" fill="#ffffff" rx="0.7"/>
<path d="M449.2 204.9 Q449.2 204.2 449.9 204.2 L546.7 204.2 Q547.4 204.2 547.4 204.9 L547.4 231 L449.2 231 Z" fill="#7a6fbe"/>
<path d="M449.2 231 L455.4 231 L449.2 235.4 Z" fill="#7a6fbe"/>
<text x="498.30" y="217.40" font-size="14" fill="#d3cfec" font-weight="700" text-anchor="middle">“</text>
<text x="498.30" y="217.80" font-size="2.4" fill="#e6e3f6" text-anchor="middle" textLength="86.00" lengthAdjust="spacingAndGlyphs" stroke="#e6e3f6" stroke-width="0.072">The European languages are members of the same family. Their separate</text>
<text x="498.30" y="221.60" font-size="2.4" fill="#e6e3f6" text-anchor="middle" textLength="83.00" lengthAdjust="spacingAndGlyphs" stroke="#e6e3f6" stroke-width="0.072">existence is a myth. For science, music, sport, etc, Europe the same</text>
<text x="498.30" y="225.30" font-size="2.4" fill="#e6e3f6" text-anchor="middle" textLength="58.00" lengthAdjust="spacingAndGlyphs" stroke="#e6e3f6" stroke-width="0.072">vocabulary. The languages only in their grammar.</text>
<g><clipPath id="cp4575_2410"><circle cx="457.5" cy="241.0" r="4.3"/></clipPath>
<g clip-path="url(#cp4575_2410)">
<circle cx="457.50" cy="241.00" r="4.30" fill="#5b3a2a" />
<ellipse cx="457.5" cy="245.39" rx="3.53" ry="2.37" fill="#2c1a12"/>
<ellipse cx="457.5" cy="240.23" rx="1.98" ry="2.24" fill="#2c1a12"/>
<ellipse cx="457.5" cy="240.91" rx="1.46" ry="1.81" fill="#e4b99a"/>
</g></g>
<text x="465.00" y="240.20" font-size="2.9" fill="#3e4454" font-weight="700" textLength="19.40" lengthAdjust="spacingAndGlyphs" opacity="0.9" stroke="#3e4454" stroke-width="0.039">James Athey</text>
<text x="465.00" y="244.60" font-size="2.3" fill="#9aa3ad" textLength="22.00" lengthAdjust="spacingAndGlyphs" stroke="#9aa3ad" stroke-width="0.069">Marketing Manager</text>
<rect x="449.20" y="256.00" width="98.20" height="35.80" fill="#ffffff" rx="0.7"/>
<text x="452.60" y="262.10" font-size="3.0" fill="#4a5060" font-weight="700" textLength="16.20" lengthAdjust="spacingAndGlyphs" opacity="0.85" stroke="#4a5060" stroke-width="0.041">Yearly Sales</text>
<text x="452.60" y="270.80" font-size="5.6" fill="#6b7280" textLength="14.20" lengthAdjust="spacingAndGlyphs">52,345</text>
<text x="452.60" y="275.80" font-size="2.3" fill="#9aa3ad" textLength="22.40" lengthAdjust="spacingAndGlyphs" stroke="#9aa3ad" stroke-width="0.069">The languages only</text>
<text x="452.60" y="279.50" font-size="2.3" fill="#9aa3ad" textLength="17.40" lengthAdjust="spacingAndGlyphs" stroke="#9aa3ad" stroke-width="0.069">differ grammar</text>
<text x="452.60" y="286.30" font-size="2.3" fill="#7f8790" textLength="15.40" lengthAdjust="spacingAndGlyphs" stroke="#7f8790" stroke-width="0.069">Learn more ></text>
<rect x="505.10" y="278.00" width="1.80" height="10.50" fill="#7a6fbe"/>
<rect x="508.20" y="283.50" width="1.80" height="5.00" fill="#7a6fbe"/>
<rect x="511.30" y="288.00" width="1.80" height="0.50" fill="#7a6fbe"/>
<rect x="514.40" y="280.50" width="1.80" height="8.00" fill="#7a6fbe"/>
<rect x="517.50" y="272.50" width="1.80" height="16.00" fill="#7a6fbe"/>
<rect x="520.60" y="267.50" width="1.80" height="21.00" fill="#7a6fbe"/>
<rect x="523.70" y="280.50" width="1.80" height="8.00" fill="#7a6fbe"/>
<rect x="526.80" y="288.00" width="1.80" height="0.50" fill="#7a6fbe"/>
<rect x="529.90" y="275.50" width="1.80" height="13.00" fill="#7a6fbe"/>
<rect x="533.00" y="267.50" width="1.80" height="21.00" fill="#7a6fbe"/>
<rect x="536.10" y="264.50" width="1.80" height="24.00" fill="#7a6fbe"/>
<rect x="539.20" y="270.50" width="1.80" height="18.00" fill="#7a6fbe"/>
<rect x="542.30" y="267.50" width="1.80" height="21.00" fill="#7a6fbe"/>
<rect x="241.20" y="297.80" width="150.40" height="84.40" fill="#ffffff" rx="0.7"/>
<rect x="397.40" y="297.80" width="149.80" height="84.40" fill="#ffffff" rx="0.7"/>
<text x="245.10" y="304.20" font-size="3.2" fill="#4a5060" font-weight="700" textLength="28.40" lengthAdjust="spacingAndGlyphs" opacity="0.85" stroke="#4a5060" stroke-width="0.043">Latest Transactions</text>
<text x="401.10" y="304.20" font-size="3.2" fill="#4a5060" font-weight="700" textLength="19.40" lengthAdjust="spacingAndGlyphs" opacity="0.85" stroke="#4a5060" stroke-width="0.043">Latest Orders</text>
<line x1="245.10" y1="310.40" x2="387.60" y2="310.40" stroke="#f1f2f4" stroke-width="0.3" />
<g><clipPath id="cp2498_3170"><circle cx="249.8" cy="317.0" r="3.0"/></clipPath>
<g clip-path="url(#cp2498_3170)">
<circle cx="249.80" cy="317.00" r="3.00" fill="#7a4a30" />
<ellipse cx="249.8" cy="320.06" rx="2.46" ry="1.65" fill="#3c2216"/>
<ellipse cx="249.8" cy="316.46" rx="1.38" ry="1.56" fill="#3c2216"/>
<ellipse cx="249.8" cy="316.94" rx="1.02" ry="1.26" fill="#e8c0a0"/>
</g></g>
<text x="254.90" y="317.95" font-size="2.7" fill="#7b818d" stroke="#7b818d" stroke-width="0.081">Herbert C. Patton</text>
<circle cx="296.40" cy="317.00" r="0.80" fill="#58db83" />
<text x="298.20" y="317.95" font-size="2.7" fill="#7b818d" stroke="#7b818d" stroke-width="0.081">Confirm</text>
<text x="334.00" y="316.20" font-size="2.7" fill="#727885" font-weight="700" stroke="#727885" stroke-width="0.036">$14,584</text>
<text x="334.00" y="320.00" font-size="2.4" fill="#9aa3ad" stroke="#9aa3ad" stroke-width="0.072">Amount</text>
<text x="354.00" y="316.20" font-size="2.7" fill="#727885" font-weight="700" stroke="#727885" stroke-width="0.036">5/12/2016</text>
<text x="354.00" y="320.00" font-size="2.4" fill="#9aa3ad" stroke="#9aa3ad" stroke-width="0.072">Date</text>
<rect x="374.30" y="314.80" width="6.60" height="4.40" fill="#6c757d" rx="0.5"/>
<text x="377.60" y="317.70" font-size="1.9" fill="#fff" text-anchor="middle" stroke="#fff" stroke-width="0.057">Edit</text>
<line x1="245.10" y1="323.50" x2="387.60" y2="323.50" stroke="#f1f2f4" stroke-width="0.3" />
<g><clipPath id="cp2498_3301"><circle cx="249.8" cy="330.1" r="3.0"/></clipPath>
<g clip-path="url(#cp2498_3301)">
<circle cx="249.80" cy="330.10" r="3.00" fill="#232326" />
<ellipse cx="249.8" cy="333.16" rx="2.46" ry="1.65" fill="#0e0e10"/>
<ellipse cx="249.8" cy="329.56" rx="1.38" ry="1.56" fill="#0e0e10"/>
<ellipse cx="249.8" cy="330.04" rx="1.02" ry="1.26" fill="#b5b5b8"/>
</g></g>
<text x="254.90" y="331.05" font-size="2.7" fill="#7b818d" stroke="#7b818d" stroke-width="0.081">Mathias N. Klausen</text>
<circle cx="296.40" cy="330.10" r="0.80" fill="#f5b225" />
<text x="298.20" y="331.05" font-size="2.7" fill="#7b818d" stroke="#7b818d" stroke-width="0.081">Waiting payment</text>
<text x="334.00" y="329.30" font-size="2.7" fill="#727885" font-weight="700" stroke="#727885" stroke-width="0.036">$8,541</text>
<text x="334.00" y="333.10" font-size="2.4" fill="#9aa3ad" stroke="#9aa3ad" stroke-width="0.072">Amount</text>
<text x="354.00" y="329.30" font-size="2.7" fill="#727885" font-weight="700" stroke="#727885" stroke-width="0.036">10/11/2016</text>
<text x="354.00" y="333.10" font-size="2.4" fill="#9aa3ad" stroke="#9aa3ad" stroke-width="0.072">Date</text>
<rect x="374.30" y="327.90" width="6.60" height="4.40" fill="#6c757d" rx="0.5"/>
<text x="377.60" y="330.80" font-size="1.9" fill="#fff" text-anchor="middle" stroke="#fff" stroke-width="0.057">Edit</text>
<line x1="245.10" y1="336.60" x2="387.60" y2="336.60" stroke="#f1f2f4" stroke-width="0.3" />
<g><clipPath id="cp2498_3432"><circle cx="249.8" cy="343.2" r="3.0"/></clipPath>
<g clip-path="url(#cp2498_3432)">
<circle cx="249.80" cy="343.20" r="3.00" fill="#2a2a2d" />
<ellipse cx="249.8" cy="346.26" rx="2.46" ry="1.65" fill="#121214"/>
<ellipse cx="249.8" cy="342.66" rx="1.38" ry="1.56" fill="#121214"/>
<ellipse cx="249.8" cy="343.14" rx="1.02" ry="1.26" fill="#c2b4aa"/>
</g></g>
<text x="254.90" y="344.15" font-size="2.7" fill="#7b818d" stroke="#7b818d" stroke-width="0.081">Nikolaj S. Henriksen</text>
<circle cx="296.40" cy="343.20" r="0.80" fill="#58db83" />
<text x="298.20" y="344.15" font-size="2.7" fill="#7b818d" stroke="#7b818d" stroke-width="0.081">Confirm</text>
<text x="334.00" y="342.40" font-size="2.7" fill="#727885" font-weight="700" stroke="#727885" stroke-width="0.036">$954</text>
<text x="334.00" y="346.20" font-size="2.4" fill="#9aa3ad" stroke="#9aa3ad" stroke-width="0.072">Amount</text>
<text x="354.00" y="342.40" font-size="2.7" fill="#727885" font-weight="700" stroke="#727885" stroke-width="0.036">8/11/2016</text>
<text x="354.00" y="346.20" font-size="2.4" fill="#9aa3ad" stroke="#9aa3ad" stroke-width="0.072">Date</text>
<rect x="374.30" y="341.00" width="6.60" height="4.40" fill="#6c757d" rx="0.5"/>
<text x="377.60" y="343.90" font-size="1.9" fill="#fff" text-anchor="middle" stroke="#fff" stroke-width="0.057">Edit</text>
<line x1="245.10" y1="349.70" x2="387.60" y2="349.70" stroke="#f1f2f4" stroke-width="0.3" />
<g><clipPath id="cp2498_3563"><circle cx="249.8" cy="356.3" r="3.0"/></clipPath>
<g clip-path="url(#cp2498_3563)">
<circle cx="249.80" cy="356.30" r="3.00" fill="#33373d" />
<ellipse cx="249.8" cy="359.36" rx="2.46" ry="1.65" fill="#181b1f"/>
<ellipse cx="249.8" cy="355.76" rx="1.38" ry="1.56" fill="#181b1f"/>
<ellipse cx="249.8" cy="356.24" rx="1.02" ry="1.26" fill="#c5c9cd"/>
</g></g>
<text x="254.90" y="357.25" font-size="2.7" fill="#7b818d" stroke="#7b818d" stroke-width="0.081">Lasse C. Overgaard</text>
<circle cx="296.40" cy="356.30" r="0.80" fill="#ec536c" />
<text x="298.20" y="357.25" font-size="2.7" fill="#7b818d" stroke="#7b818d" stroke-width="0.081">Payment expired</text>
<text x="334.00" y="355.50" font-size="2.7" fill="#727885" font-weight="700" stroke="#727885" stroke-width="0.036">$44,584</text>
<text x="334.00" y="359.30" font-size="2.4" fill="#9aa3ad" stroke="#9aa3ad" stroke-width="0.072">Amount</text>
<text x="354.00" y="355.50" font-size="2.7" fill="#727885" font-weight="700" stroke="#727885" stroke-width="0.036">7/11/2016</text>
<text x="354.00" y="359.30" font-size="2.4" fill="#9aa3ad" stroke="#9aa3ad" stroke-width="0.072">Date</text>
<rect x="374.30" y="354.10" width="6.60" height="4.40" fill="#6c757d" rx="0.5"/>
<text x="377.60" y="357.00" font-size="1.9" fill="#fff" text-anchor="middle" stroke="#fff" stroke-width="0.057">Edit</text>
<line x1="245.10" y1="362.80" x2="387.60" y2="362.80" stroke="#f1f2f4" stroke-width="0.3" />
<g><clipPath id="cp2498_3694"><circle cx="249.8" cy="369.4" r="3.0"/></clipPath>
<g clip-path="url(#cp2498_3694)">
<circle cx="249.80" cy="369.40" r="3.00" fill="#5a524d" />
<ellipse cx="249.8" cy="372.46" rx="2.46" ry="1.65" fill="#2b2623"/>
<ellipse cx="249.8" cy="368.86" rx="1.38" ry="1.56" fill="#2b2623"/>
<ellipse cx="249.8" cy="369.34" rx="1.02" ry="1.26" fill="#d8c6b8"/>
</g></g>
<text x="254.90" y="370.35" font-size="2.7" fill="#7b818d" stroke="#7b818d" stroke-width="0.081">Kasper S. Jessen</text>
<circle cx="296.40" cy="369.40" r="0.80" fill="#58db83" />
<text x="298.20" y="370.35" font-size="2.7" fill="#7b818d" stroke="#7b818d" stroke-width="0.081">Confirm</text>
<text x="334.00" y="368.60" font-size="2.7" fill="#727885" font-weight="700" stroke="#727885" stroke-width="0.036">$8,844</text>
<text x="334.00" y="372.40" font-size="2.4" fill="#9aa3ad" stroke="#9aa3ad" stroke-width="0.072">Amount</text>
<text x="354.00" y="368.60" font-size="2.7" fill="#727885" font-weight="700" stroke="#727885" stroke-width="0.036">1/11/2016</text>
<text x="354.00" y="372.40" font-size="2.4" fill="#9aa3ad" stroke="#9aa3ad" stroke-width="0.072">Date</text>
<rect x="374.30" y="367.20" width="6.60" height="4.40" fill="#6c757d" rx="0.5"/>
<text x="377.60" y="370.10" font-size="1.9" fill="#fff" text-anchor="middle" stroke="#fff" stroke-width="0.057">Edit</text>
<line x1="401.10" y1="310.40" x2="543.40" y2="310.40" stroke="#f1f2f4" stroke-width="0.3" />
<text x="402.60" y="317.00" font-size="2.4" fill="#767c88" font-weight="700" textLength="12.60" lengthAdjust="spacingAndGlyphs" stroke="#767c88" stroke-width="0.032">#14256</text>
<g><clipPath id="cp4269_3161"><circle cx="426.9" cy="316.1" r="3.0"/></clipPath>
<g clip-path="url(#cp4269_3161)">
<circle cx="426.90" cy="316.10" r="3.00" fill="#d9b45a" />
<ellipse cx="426.9" cy="319.16" rx="2.46" ry="1.65" fill="#7a5a2a"/>
<ellipse cx="426.9" cy="315.56" rx="1.38" ry="1.56" fill="#7a5a2a"/>
<ellipse cx="426.9" cy="316.04" rx="1.02" ry="1.26" fill="#f0d7b5"/>
</g></g>
<text x="432.00" y="317.00" font-size="2.4" fill="#767c88" textLength="24.00" lengthAdjust="spacingAndGlyphs" stroke="#767c88" stroke-width="0.072">Boudreau Glass &amp; Sons</text>
<rect x="481.00" y="314.60" width="11.00" height="3.00" fill="#58db83" rx="0.4" opacity="0.85"/>
<text x="486.50" y="316.80" font-size="1.9" fill="#fff" text-anchor="middle" opacity="0.8" stroke="#fff" stroke-width="0.057">Delivered</text>
<text x="500.00" y="317.00" font-size="2.4" fill="#767c88" stroke="#767c88" stroke-width="0.072">$94</text>
<text x="513.60" y="317.00" font-size="2.4" fill="#767c88" textLength="10.60" lengthAdjust="spacingAndGlyphs" stroke="#767c88" stroke-width="0.072">15/1/2018</text>
<rect x="531.60" y="313.70" width="7.20" height="4.80" fill="#6c757d" rx="0.5"/>
<text x="535.20" y="316.80" font-size="1.9" fill="#fff" text-anchor="middle" stroke="#fff" stroke-width="0.057">Edit</text>
<line x1="401.10" y1="321.75" x2="543.40" y2="321.75" stroke="#f1f2f4" stroke-width="0.3" />
<text x="402.60" y="328.35" font-size="2.4" fill="#767c88" font-weight="700" textLength="12.60" lengthAdjust="spacingAndGlyphs" stroke="#767c88" stroke-width="0.032">#14257</text>
<g><clipPath id="cp4269_3274"><circle cx="426.9" cy="327.45000000000005" r="3.0"/></clipPath>
<g clip-path="url(#cp4269_3274)">
<circle cx="426.90" cy="327.45" r="3.00" fill="#8a5a3c" />
<ellipse cx="426.9" cy="330.51" rx="2.46" ry="1.65" fill="#5a2f1c"/>
<ellipse cx="426.9" cy="326.91" rx="1.38" ry="1.56" fill="#5a2f1c"/>
<ellipse cx="426.9" cy="327.39" rx="1.02" ry="1.26" fill="#e9c2a3"/>
</g></g>
<text x="432.00" y="328.35" font-size="2.4" fill="#767c88" textLength="25.50" lengthAdjust="spacingAndGlyphs" stroke="#767c88" stroke-width="0.072">Briere Company Solutions</text>
<rect x="481.00" y="325.95" width="11.00" height="3.00" fill="#58db83" rx="0.4" opacity="0.85"/>
<text x="486.50" y="328.15" font-size="1.9" fill="#fff" text-anchor="middle" opacity="0.8" stroke="#fff" stroke-width="0.057">Delivered</text>
<text x="500.00" y="328.35" font-size="2.4" fill="#767c88" stroke="#767c88" stroke-width="0.072">$112</text>
<text x="513.60" y="328.35" font-size="2.4" fill="#767c88" textLength="10.60" lengthAdjust="spacingAndGlyphs" stroke="#767c88" stroke-width="0.072">16/1/2018</text>
<rect x="531.60" y="325.05" width="7.20" height="4.80" fill="#6c757d" rx="0.5"/>
<text x="535.20" y="328.15" font-size="1.9" fill="#fff" text-anchor="middle" stroke="#fff" stroke-width="0.057">Edit</text>
<line x1="401.10" y1="333.10" x2="543.40" y2="333.10" stroke="#f1f2f4" stroke-width="0.3" />
<text x="402.60" y="339.70" font-size="2.4" fill="#767c88" font-weight="700" textLength="12.60" lengthAdjust="spacingAndGlyphs" stroke="#767c88" stroke-width="0.032">#14258</text>
<g><clipPath id="cp4269_3388"><circle cx="426.9" cy="338.8" r="3.0"/></clipPath>
<g clip-path="url(#cp4269_3388)">
<circle cx="426.90" cy="338.80" r="3.00" fill="#2b2b2d" />
<ellipse cx="426.9" cy="341.86" rx="2.46" ry="1.65" fill="#111"/>
<ellipse cx="426.9" cy="338.26" rx="1.38" ry="1.56" fill="#111"/>
<ellipse cx="426.9" cy="338.74" rx="1.02" ry="1.26" fill="#b9b9bb"/>
</g></g>
<text x="432.00" y="339.70" font-size="2.4" fill="#767c88" textLength="33.00" lengthAdjust="spacingAndGlyphs" stroke="#767c88" stroke-width="0.072">Hair Guidance &amp; Aviation Supply</text>
<rect x="481.00" y="337.30" width="8.60" height="3.00" fill="#ec536c" rx="0.4" opacity="0.85"/>
<text x="485.30" y="339.50" font-size="1.9" fill="#fff" text-anchor="middle" opacity="0.8" stroke="#fff" stroke-width="0.057">Cancel</text>
<text x="500.00" y="339.70" font-size="2.4" fill="#767c88" stroke="#767c88" stroke-width="0.072">$116</text>
<text x="513.60" y="339.70" font-size="2.4" fill="#767c88" textLength="10.60" lengthAdjust="spacingAndGlyphs" stroke="#767c88" stroke-width="0.072">17/1/2018</text>
<rect x="531.60" y="336.40" width="7.20" height="4.80" fill="#6c757d" rx="0.5"/>
<text x="535.20" y="339.50" font-size="1.9" fill="#fff" text-anchor="middle" stroke="#fff" stroke-width="0.057">Edit</text>
<line x1="401.10" y1="344.45" x2="543.40" y2="344.45" stroke="#f1f2f4" stroke-width="0.3" />
<text x="402.60" y="351.05" font-size="2.4" fill="#767c88" font-weight="700" textLength="12.60" lengthAdjust="spacingAndGlyphs" stroke="#767c88" stroke-width="0.032">#14259</text>
<g><clipPath id="cp4269_3501"><circle cx="426.9" cy="350.15000000000003" r="3.0"/></clipPath>
<g clip-path="url(#cp4269_3501)">
<circle cx="426.90" cy="350.15" r="3.00" fill="#2a2527" />
<ellipse cx="426.9" cy="353.21" rx="2.46" ry="1.65" fill="#151213"/>
<ellipse cx="426.9" cy="349.61" rx="1.38" ry="1.56" fill="#151213"/>
<ellipse cx="426.9" cy="350.09" rx="1.02" ry="1.26" fill="#bfa79b"/>
</g></g>
<text x="432.00" y="351.05" font-size="2.4" fill="#767c88" textLength="32.50" lengthAdjust="spacingAndGlyphs" stroke="#767c88" stroke-width="0.072">Carina Bathrooms Small Gossen</text>
<rect x="481.00" y="348.65" width="11.00" height="3.00" fill="#f5c04a" rx="0.4" opacity="0.85"/>
<text x="486.50" y="350.85" font-size="1.9" fill="#fff" text-anchor="middle" opacity="0.8" stroke="#fff" stroke-width="0.057">Shipped</text>
<text x="500.00" y="351.05" font-size="2.4" fill="#767c88" stroke="#767c88" stroke-width="0.072">$109</text>
<text x="513.60" y="351.05" font-size="2.4" fill="#767c88" textLength="10.60" lengthAdjust="spacingAndGlyphs" stroke="#767c88" stroke-width="0.072">18/1/2018</text>
<rect x="531.60" y="347.75" width="7.20" height="4.80" fill="#6c757d" rx="0.5"/>
<text x="535.20" y="350.85" font-size="1.9" fill="#fff" text-anchor="middle" stroke="#fff" stroke-width="0.057">Edit</text>
<line x1="401.10" y1="355.80" x2="543.40" y2="355.80" stroke="#f1f2f4" stroke-width="0.3" />
<text x="402.60" y="362.40" font-size="2.4" fill="#767c88" font-weight="700" textLength="12.60" lengthAdjust="spacingAndGlyphs" stroke="#767c88" stroke-width="0.032">#14260</text>
<g><clipPath id="cp4269_3615"><circle cx="426.9" cy="361.5" r="3.0"/></clipPath>
<g clip-path="url(#cp4269_3615)">
<circle cx="426.90" cy="361.50" r="3.00" fill="#39424c" />
<ellipse cx="426.9" cy="364.56" rx="2.46" ry="1.65" fill="#1e252c"/>
<ellipse cx="426.9" cy="360.96" rx="1.38" ry="1.56" fill="#1e252c"/>
<ellipse cx="426.9" cy="361.44" rx="1.02" ry="1.26" fill="#c7cdd2"/>
</g></g>
<text x="432.00" y="362.40" font-size="2.4" fill="#767c88" textLength="19.50" lengthAdjust="spacingAndGlyphs" stroke="#767c88" stroke-width="0.072">Bradley Spinders</text>
<rect x="481.00" y="360.00" width="11.00" height="3.00" fill="#58db83" rx="0.4" opacity="0.85"/>
<text x="486.50" y="362.20" font-size="1.9" fill="#fff" text-anchor="middle" opacity="0.8" stroke="#fff" stroke-width="0.057">Delivered</text>
<text x="500.00" y="362.40" font-size="2.4" fill="#767c88" stroke="#767c88" stroke-width="0.072">$120</text>
<text x="513.60" y="362.40" font-size="2.4" fill="#767c88" textLength="10.60" lengthAdjust="spacingAndGlyphs" stroke="#767c88" stroke-width="0.072">19/1/2018</text>
<rect x="531.60" y="359.10" width="7.20" height="4.80" fill="#6c757d" rx="0.5"/>
<text x="535.20" y="362.20" font-size="1.9" fill="#fff" text-anchor="middle" stroke="#fff" stroke-width="0.057">Edit</text>
<line x1="401.10" y1="367.15" x2="543.40" y2="367.15" stroke="#f1f2f4" stroke-width="0.3" />
<text x="402.60" y="373.75" font-size="2.4" fill="#767c88" font-weight="700" textLength="12.60" lengthAdjust="spacingAndGlyphs" stroke="#767c88" stroke-width="0.032">#14261</text>
<g><clipPath id="cp4269_3728"><circle cx="426.9" cy="372.85" r="3.0"/></clipPath>
<g clip-path="url(#cp4269_3728)">
<circle cx="426.90" cy="372.85" r="3.00" fill="#4a4542" />
<ellipse cx="426.9" cy="375.91" rx="2.46" ry="1.65" fill="#26211f"/>
<ellipse cx="426.9" cy="372.31" rx="1.38" ry="1.56" fill="#26211f"/>
<ellipse cx="426.9" cy="372.79" rx="1.02" ry="1.26" fill="#d9c5b6"/>
</g></g>
<text x="432.00" y="373.75" font-size="2.4" fill="#767c88" textLength="24.00" lengthAdjust="spacingAndGlyphs" stroke="#767c88" stroke-width="0.072">Boudreau Glass &amp; Sons</text>
<rect x="481.00" y="371.35" width="11.00" height="3.00" fill="#58db83" rx="0.4" opacity="0.85"/>
<text x="486.50" y="373.55" font-size="1.9" fill="#fff" text-anchor="middle" opacity="0.8" stroke="#fff" stroke-width="0.057">Delivered</text>
<text x="500.00" y="373.75" font-size="2.4" fill="#767c88" stroke="#767c88" stroke-width="0.072">$94</text>
<text x="513.60" y="373.75" font-size="2.4" fill="#767c88" textLength="10.60" lengthAdjust="spacingAndGlyphs" stroke="#767c88" stroke-width="0.072">15/1/2018</text>
<rect x="531.60" y="370.45" width="7.20" height="4.80" fill="#6c757d" rx="0.5"/>
<text x="535.20" y="373.55" font-size="1.9" fill="#fff" text-anchor="middle" stroke="#fff" stroke-width="0.057">Edit</text>
</g>
</svg>
</body></html>
